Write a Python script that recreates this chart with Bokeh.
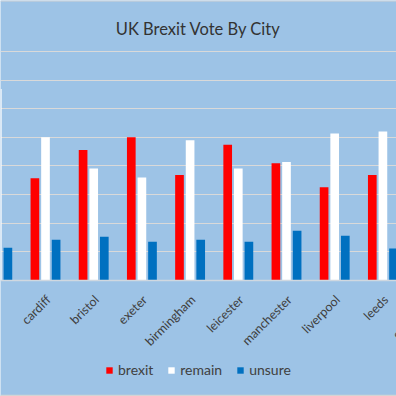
import numpy as np
from bokeh.plotting import figure
from bokeh.models import Range1d, FixedTicker, ColumnDataSource, Span, Label
from bokeh.core.properties import value
from bokeh.embed import file_html
from bokeh.resources import INLINE

# ---- data ----
chart_title = "UK Brexit Vote By City"
# first group is cut off at the left edge (name not visible); last group is cut off at the right
cities = ["", "cardiff", "bristol", "exeter", "birmingham", "leicester",
          "manchester", "liverpool", "leeds", "edinburgh"]
nan = float("nan")
brexit = [nan, 35.7, 45.6, 50.0, 36.8, 47.4, 40.9, 32.6, 36.8, nan]
remain = [66.9, 50.0, 39.1, 36.0, 49.0, 39.1, 41.4, 51.3, 52.0, nan]
unsure = [11.4, 14.2, 15.3, 13.5, 14.2, 13.5, 17.4, 15.6, 11.2, nan]
series_names = ["brexit", "remain", "unsure"]
grid_values = [10, 20, 30, 40, 50, 60, 70, 80]

# ---- layout constants ----
W, H = 396, 396
BASE_PX = 280          # baseline position from figure top
PX_PER_UNIT = 2.864    # pixels per value unit
GROUP_PX = 48.2        # pixels per category
X0_PX = -3.2           # pixel position of first category centre

colors = ["#FF0000", "#FFFFFF", "#0070C0"]
bg = "#9DC3E6"
txt = "#404040"

x_start = -X0_PX / GROUP_PX
x_end = (W - X0_PX) / GROUP_PX
y_start = -(H - BASE_PX) / PX_PER_UNIT
y_end = BASE_PX / PX_PER_UNIT

def px_to_x(px):
    return x_start + px / GROUP_PX

def px_to_y(py):
    return y_end - py / PX_PER_UNIT

p = figure(width=W, height=H, output_backend="svg", toolbar_location=None,
           x_range=Range1d(x_start, x_end), y_range=Range1d(y_start, y_end),
           x_axis_location=None, y_axis_location=None, min_border=0)
p.background_fill_color = bg
p.border_fill_color = bg
p.outline_line_color = None

p.xgrid.visible = False
p.ygrid.ticker = FixedTicker(ticks=grid_values)
p.ygrid.grid_line_color = "#D9D9D9"
p.ygrid.grid_line_width = 1

# chart border lines at top and bottom
p.add_layout(Span(location=px_to_y(0.5), dimension="width", line_color="#D4D4D4", line_width=1))
p.add_layout(Span(location=px_to_y(395), dimension="width", line_color="#D4D4D4", line_width=1.5))

xs = np.arange(len(cities))
offsets = [-0.22, 0.0, 0.22]
for vals, name, col, off in zip([brexit, remain, unsure], series_names, colors, offsets):
    src = ColumnDataSource(dict(x=xs + off, top=vals))
    p.vbar(x="x", top="top", bottom=0, width=0.18, source=src,
           fill_color=col, line_color=None, legend_label=name)

p.add_layout(Span(location=0, dimension="width", line_color="#D0D8E0", line_width=1.5))

lab_src = ColumnDataSource(dict(x=xs, y=np.zeros(len(cities)), text=cities))
p.text(x="x", y="y", text="text", source=lab_src, angle=np.pi / 4,
       text_align="right", text_baseline="middle", x_offset=3, y_offset=17,
       text_font=value("Lato"), text_font_size="12.5px", text_color=txt)

p.add_layout(Label(x=px_to_x(197.7), y=px_to_y(28.3), text=chart_title,
                   text_align="center", text_baseline="alphabetic",
                   text_font="Lato", text_font_size="16.5px", text_color="#333333"))

lg = p.legend[0]
lg.orientation = "horizontal"
lg.location = (105, 18)
lg.padding = 0
lg.margin = 0
lg.spacing = 14
lg.label_standoff = 5
lg.glyph_width = 8
lg.glyph_height = 8
lg.label_height = 8
lg.label_text_font = "Lato"
lg.label_text_font_size = "14px"
lg.label_text_color = txt
lg.background_fill_alpha = 0
lg.border_line_alpha = 0

open("out.html", "w").write(file_html(p, INLINE))
